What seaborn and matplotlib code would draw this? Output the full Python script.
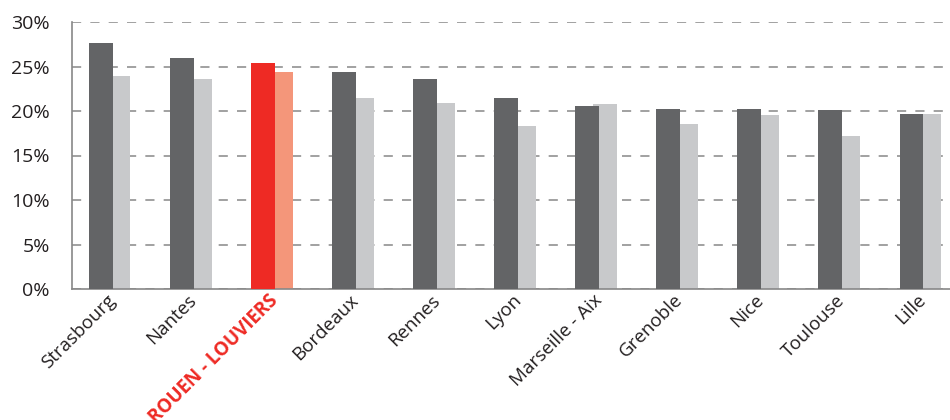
import pandas as pd
import seaborn as sns
import matplotlib.pyplot as plt
from matplotlib.ticker import FixedLocator

villes = ["Strasbourg", "Nantes", "ROUEN - LOUVIERS", "Bordeaux", "Rennes", "Lyon",
          "Marseille - Aix", "Grenoble", "Nice", "Toulouse", "Lille"]
serie_1 = [27.6, 26.0, 25.4, 24.4, 23.65, 21.5, 20.6, 20.2, 20.2, 20.1, 19.7]
serie_2 = [23.9, 23.6, 24.4, 21.5, 20.9, 18.3, 20.8, 18.5, 19.6, 17.2, 19.7]
y_ticks = [0, 5, 10, 15, 20, 25, 30]

dark, light = "#636466", "#c8c9cb"
red, salmon = "#ee2a24", "#f4967a"
grey = "#888888"
txt = "#231f20"

df = pd.DataFrame({
    "ville": villes * 2,
    "valeur": serie_1 + serie_2,
    "serie": ["serie_1"] * len(villes) + ["serie_2"] * len(villes),
})

sns.set_style("white")
plt.rcParams["font.family"] = ["Open Sans", "DejaVu Sans"]

fig = plt.figure(figsize=(9.5, 4.2), dpi=100)
ax = fig.add_axes([72 / 950, 131 / 420, 892 / 950, 267 / 420])

sns.barplot(data=df, x="ville", y="valeur", hue="serie", palette=[dark, light],
            width=0.59, linewidth=0, legend=False, ax=ax)

# dark bars sit in front, light bars slide a little under them
for p in ax.containers[0].patches:
    p.set_zorder(3)
for p in ax.containers[1].patches:
    p.set_x(p.get_x() - 0.074)
    p.set_zorder(2)
rouen = villes.index("ROUEN - LOUVIERS")
ax.containers[0].patches[rouen].set_facecolor(red)
ax.containers[1].patches[rouen].set_facecolor(salmon)

ax.set_xlim(-0.5, len(villes) - 0.5)
ax.set_ylim(0, 30)
ax.set_yticks(y_ticks)
ax.set_yticklabels([f"{v}%" for v in y_ticks])
ax.yaxis.grid(True, color=grey, linestyle=(0, (6, 6)), linewidth=1.1)
ax.set_axisbelow(True)

ax.xaxis.set_minor_locator(FixedLocator([i - 0.5 for i in range(len(villes) + 1)]))
ax.tick_params(axis="x", which="major", length=0, pad=6, labelsize=13.5, labelcolor=txt)
ax.tick_params(axis="x", which="minor", length=6, width=1, color=grey, direction="out")
ax.tick_params(axis="y", length=10, width=1, color=grey, direction="out",
               labelsize=14, labelcolor=txt, pad=6)
ax.set_xlabel("")
ax.set_ylabel("")

for lab in ax.get_xticklabels():
    lab.set_rotation(45)
    lab.set_ha("right")
    lab.set_va("center")
    lab.set_rotation_mode("anchor")
    if lab.get_text() == "ROUEN - LOUVIERS":
        lab.set_color(red)
        lab.set_fontweight("bold")

for s in ["top", "right"]:
    ax.spines[s].set_visible(False)
for s in ["left", "bottom"]:
    ax.spines[s].set_color(grey)
    ax.spines[s].set_linewidth(1.2)

plt.savefig("out.png", dpi=100)
